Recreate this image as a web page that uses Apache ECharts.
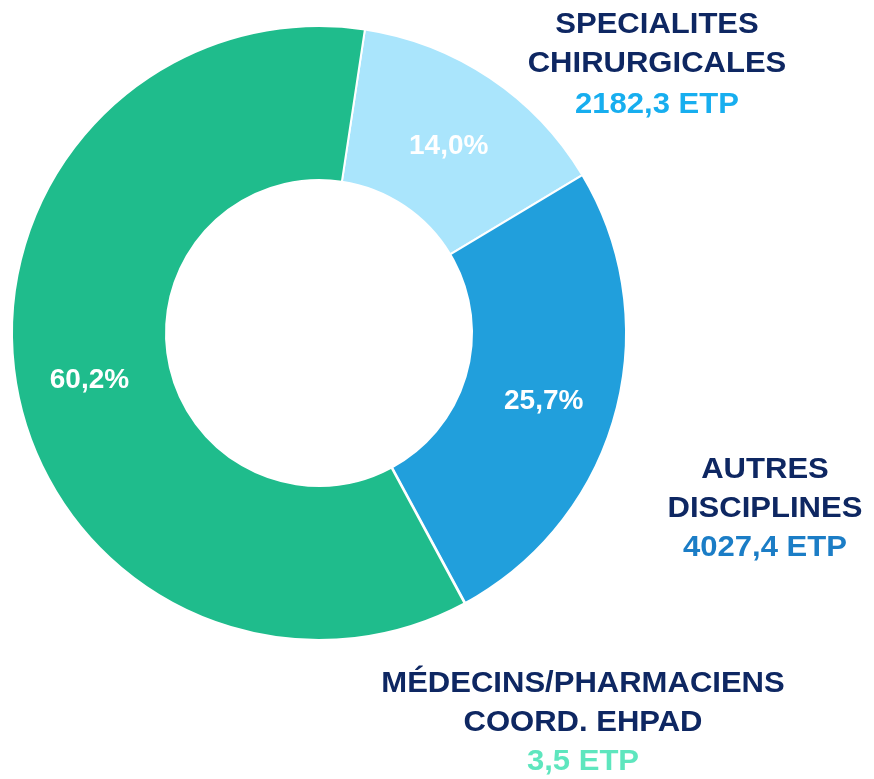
<!DOCTYPE html>
<html>
<head>
<meta charset="utf-8">
<script src="https://cdn.jsdelivr.net/npm/echarts@6/dist/echarts.min.js"></script>
<style>
html,body{margin:0;padding:0;background:#fff;}
#chart{width:874px;height:779px;}
</style>
</head>
<body>
<div id="chart"></div>
<script>
// Data
var names = ['SPECIALITES\nCHIRURGICALES', 'AUTRES\nDISCIPLINES', 'MÉDECINS/PHARMACIENS\nCOORD. EHPAD', 'AUTRES'];
var percents = [14.0, 25.7, 0.02, 60.2];
var etp = ['2182,3', '4027,4', '3,5', null];
var sliceColors = ['#AAE5FC', '#219FDC', '#5EE6BE', '#1FBC8C'];
var valueColors = ['#17AEEF', '#1B7DC6', '#5EE6BE', null];
var showPct = [true, true, false, true];

var nameColor = '#0E2762';
var font = '"Liberation Sans", Arial, sans-serif';

var chart = echarts.init(document.getElementById('chart'));

var data = percents.map(function (v, i) {
  var d = {
    name: names[i],
    value: v,
    itemStyle: { color: sliceColors[i] },
    label: { show: showPct[i] }
  };
  if (!showPct[i]) d.itemStyle.borderWidth = 3;
  return d;
});

// outside label blocks (layout only)
var blockPos = [
  { x: 657, y: 5, vlh: 43 },
  { x: 765, y: 450, vlh: 39 },
  { x: 583, y: 664, vlh: 39 }
];

var graphics = [];
for (var i = 0; i < blockPos.length; i++) {
  if (etp[i] === null) continue;
  graphics.push({
    type: 'text',
    x: blockPos[i].x,
    y: blockPos[i].y,
    scaleX: 1.07,
    style: {
      text: '{n|' + names[i].split('\n').join('}\n{n|') + '}\n{v|' + etp[i] + ' ETP}',
      align: 'center',
      verticalAlign: 'top',
      fontFamily: font,
      rich: {
        n: { fontSize: 29, fontWeight: 'bold', fill: nameColor, color: nameColor, lineHeight: 39, fontFamily: font, align: 'center' },
        v: { fontSize: 29, fontWeight: 'bold', fill: valueColors[i], color: valueColors[i], lineHeight: blockPos[i].vlh, fontFamily: font, align: 'center' }
      }
    }
  });
}

chart.setOption({
  animation: false,
  backgroundColor: '#ffffff',
  series: [{
    type: 'pie',
    center: [319, 333],
    radius: [153, 307],
    startAngle: 81.4,
    clockwise: true,
    avoidLabelOverlap: false,
    itemStyle: { borderColor: '#ffffff', borderWidth: 2 },
    label: {
      position: 'inside',
      color: '#ffffff',
      fontSize: 28,
      fontWeight: 'bold',
      fontFamily: font,
      offset: [0, 7],
      formatter: function (p) {
        return p.value.toFixed(1).replace('.', ',') + '%';
      }
    },
    labelLine: { show: false },
    emphasis: { disabled: true },
    data: data
  }],
  graphic: graphics
});
</script>
</body>
</html>
